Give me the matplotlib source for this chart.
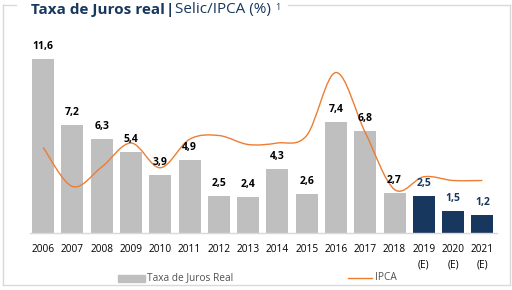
import matplotlib
matplotlib.use("Agg")
import matplotlib.pyplot as plt
from matplotlib.path import Path
from matplotlib.patches import PathPatch, Rectangle
from matplotlib.lines import Line2D

years = ["2006", "2007", "2008", "2009", "2010", "2011", "2012", "2013", "2014",
         "2015", "2016", "2017", "2018", "2019\n(E)", "2020\n(E)", "2021\n(E)"]
juros_real = [11.6, 7.2, 6.3, 5.4, 3.9, 4.9, 2.5, 2.4, 4.3, 2.6, 7.4, 6.8, 2.7, 2.5, 1.5, 1.2]
labels = ["11,6", "7,2", "6,3", "5,4", "3,9", "4,9", "2,5", "2,4", "4,3", "2,6", "7,4",
          "6,8", "2,7", "2,5", "1,5", "1,2"]
estimated = [False] * 13 + [True] * 3
ipca = [5.7, 3.1, 4.4, 6.0, 4.35, 6.25, 6.5, 5.9, 6.0, 6.5, 10.7, 6.7, 2.9, 3.75, 3.5, 3.5]

GRAY = "#bfbfbf"
NAVY = "#17375e"
ORANGE = "#ed7d31"
FRAME = "#d9d9d9"
FONT = "Open Sans"
plt.rcParams["font.family"] = [FONT, "DejaVu Sans"]

W, H = 512, 290
fig = plt.figure(figsize=(W / 100, H / 100), dpi=100)
ax = fig.add_axes([30 / W, 57 / H, 467 / W, 187.5 / H])

x = list(range(len(years)))
colors = [NAVY if e else GRAY for e in estimated]
ax.bar(x, juros_real, width=0.75, color=colors, zorder=2)
for xi, v, lab, e in zip(x, juros_real, labels, estimated):
    ax.annotate(lab, (xi, v), xytext=(0, 5), textcoords="offset points",
                ha="center", va="bottom", fontsize=7.5, fontweight="bold",
                color=NAVY if e else "black", zorder=4)

# smoothed IPCA line (Catmull-Rom style bezier through the data points)
pts = list(zip(x, ipca))
verts = [pts[0]]
codes = [Path.MOVETO]
n = len(pts)
for i in range(n - 1):
    p0 = pts[i - 1] if i > 0 else pts[i]
    p1 = pts[i]
    p2 = pts[i + 1]
    p3 = pts[i + 2] if i + 2 < n else pts[i + 1]
    c1 = (p1[0] + (p2[0] - p0[0]) / 6, p1[1] + (p2[1] - p0[1]) / 6)
    c2 = (p2[0] - (p3[0] - p1[0]) / 6, p2[1] - (p3[1] - p1[1]) / 6)
    verts += [c1, c2, p2]
    codes += [Path.CURVE4] * 3
ax.add_patch(PathPatch(Path(verts, codes), fill=False, edgecolor=ORANGE, lw=1.0, zorder=3))

ax.set_xlim(-0.45, 15.5)
ax.set_ylim(0, 12.5)
for s in ["top", "right", "left"]:
    ax.spines[s].set_visible(False)
ax.spines["bottom"].set_color(FRAME)
ax.spines["bottom"].set_linewidth(1)
ax.set_yticks([])
ax.set_xticks(x)
ax.set_xticklabels(years, fontsize=7.3, color="black", linespacing=1.6, va="top")
ax.tick_params(axis="x", length=0, pad=8)

# outer frame (top line interrupted by the title)
def fl(xs, ys):
    fig.lines.append(Line2D([v / W for v in xs], [1 - v / H for v in ys],
                            transform=fig.transFigure, color=FRAME, lw=1.0))
fl([3, 3], [5, 285])
fl([3, 510], [285, 285])
fl([510, 510], [5, 285])
fl([3, 16], [5, 5])
fl([288, 510], [5, 5])

# title
ty = 1 - 10 / H
t1 = fig.text(31 / W, ty, "Taxa de Juros real", fontsize=11, fontweight="bold",
              color=NAVY, ha="left", va="center")
fig.canvas.draw()
r = fig.canvas.get_renderer()
xe = t1.get_window_extent(r).x1
t2 = fig.text((xe + 1) / W, ty, "|", fontsize=11, fontweight="bold", color=NAVY,
              ha="left", va="center")
xe = t2.get_window_extent(r).x1
t3 = fig.text((xe + 1) / W, ty, "Selic/IPCA (%)", fontsize=11, color=NAVY,
              ha="left", va="center")
xe = t3.get_window_extent(r).x1
fig.text((xe + 4) / W, 1 - 7 / H, "1", fontsize=6.5, color=NAVY, ha="left", va="center")

# legend
ly = 1 - 278 / H
fig.patches.append(Rectangle((118 / W, ly - 3.5 / H), 27 / W, 7 / H,
                             transform=fig.transFigure, color=GRAY))
fig.text(147 / W, ly, "Taxa de Juros Real", fontsize=7.3, color="#505050",
         ha="left", va="center")
fig.lines.append(Line2D([348 / W, 372 / W], [ly, ly], transform=fig.transFigure,
                        color=ORANGE, lw=1.0))
fig.text(375 / W, ly, "IPCA", fontsize=7.3, color="#505050", ha="left", va="center")

fig.savefig("out.png", dpi=100)
